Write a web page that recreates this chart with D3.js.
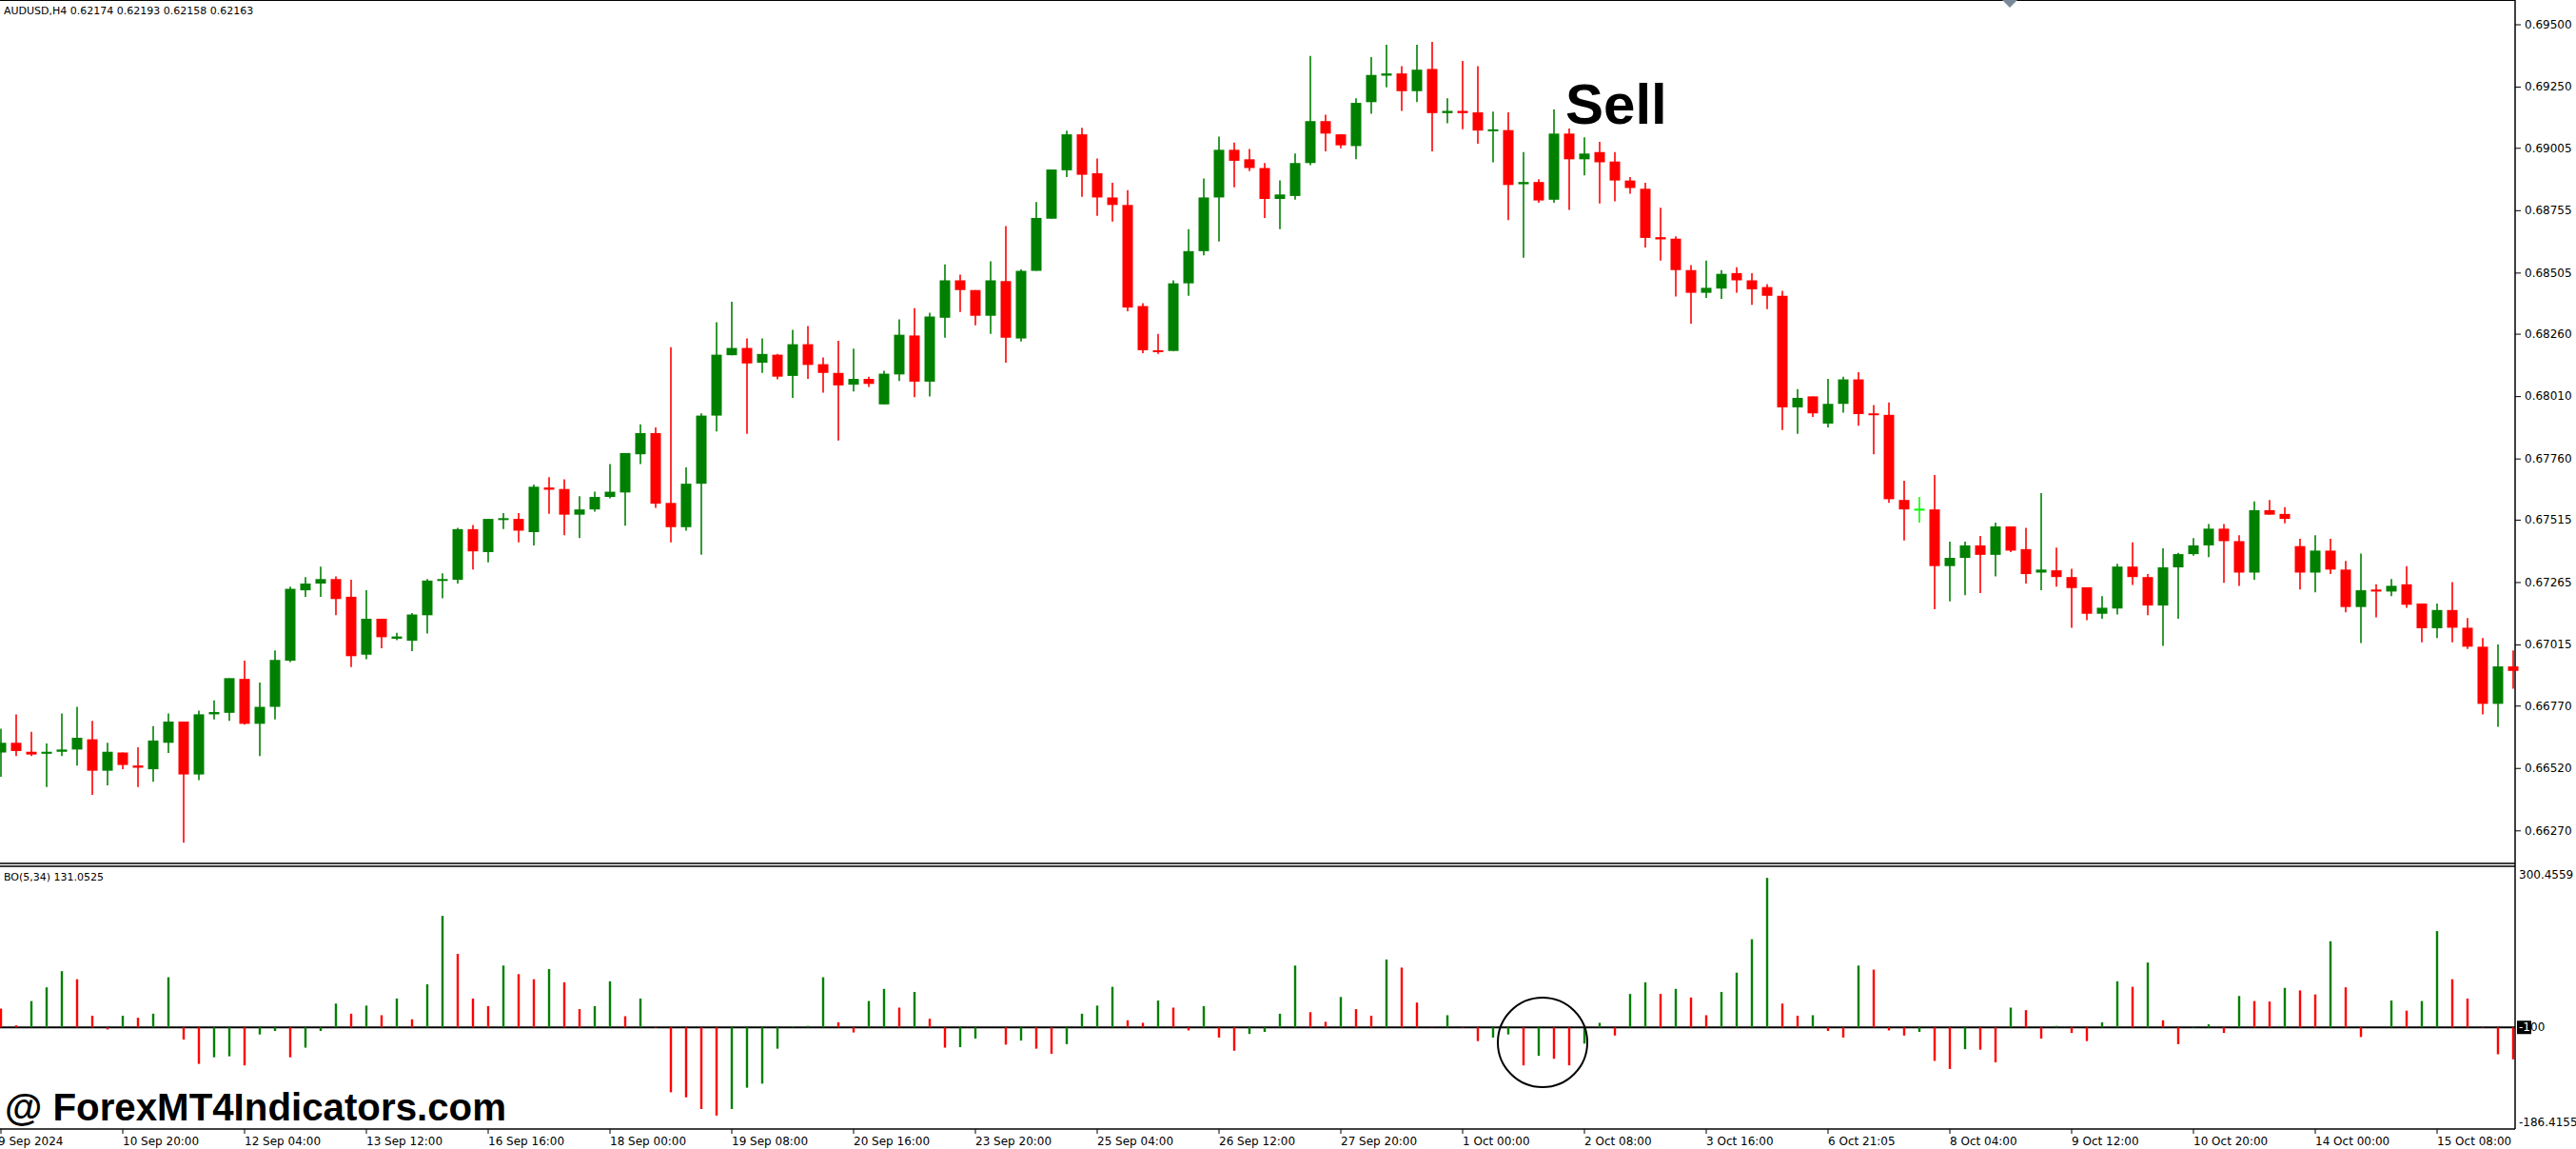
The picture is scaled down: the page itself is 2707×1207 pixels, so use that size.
<!DOCTYPE html>
<html>
<head>
<meta charset="utf-8">
<script src="https://cdn.jsdelivr.net/npm/d3@7"></script>
<style>
  html, body { margin: 0; padding: 0; background: #fff; }
  svg { display: block; }
</style>
</head>
<body>
<svg id="chart" width="2707" height="1207"></svg>
<script>
// AUDUSD H4 candles
var opens = [0.66582,0.66621,0.66585,0.66577,0.66585,0.66594,0.66635,0.66509,0.66582,0.66530,
0.66515,0.66621,0.66706,0.66494,0.66735,0.66741,0.66877,0.66697,0.66765,0.66950,
0.67232,0.67259,0.67277,0.67206,0.66974,0.67118,0.67038,0.67030,0.67132,0.67271,
0.67274,0.67477,0.67385,0.67515,0.67518,0.67465,0.67644,0.67638,0.67535,0.67556,
0.67606,0.67624,0.67777,0.67862,0.67582,0.67485,0.67659,0.67932,0.68174,0.68203,
0.68144,0.68176,0.68091,0.68218,0.68138,0.68103,0.68056,0.68079,0.67977,0.68097,
0.68253,0.68068,0.68324,0.68474,0.68435,0.68332,0.68471,0.68241,0.68512,0.68721,
0.68915,0.69059,0.68903,0.68806,0.68776,0.68371,0.68194,0.68191,0.68462,0.68591,
0.68806,0.68997,0.68959,0.68924,0.68800,0.68812,0.68944,0.69112,0.69059,0.69012,
0.69188,0.69294,0.69303,0.69232,0.69321,0.69144,0.69153,0.69147,0.69074,0.69076,
0.68859,0.68868,0.68797,0.69062,0.68959,0.68988,0.68950,0.68874,0.68841,0.68647,
0.68641,0.68515,0.68424,0.68441,0.68503,0.68474,0.68447,0.68412,0.67965,0.68009,
0.67900,0.67979,0.68077,0.67941,0.67935,0.67594,0.67559,0.67556,0.67329,0.67362,
0.67412,0.67374,0.67488,0.67397,0.67303,0.67312,0.67285,0.67244,0.67138,0.67159,
0.67327,0.67285,0.67171,0.67324,0.67377,0.67412,0.67479,0.67429,0.67303,0.67553,
0.67538,0.67409,0.67303,0.67391,0.67315,0.67165,0.67235,0.67227,0.67256,0.67179,
0.67080,0.67153,0.67082,0.67006,0.66777,0.66927];
var highs = [0.66677,0.66735,0.66665,0.66618,0.66738,0.66765,0.66709,0.66621,0.66582,0.66603,
0.66688,0.66738,0.66706,0.66750,0.66791,0.66880,0.66950,0.66862,0.66991,0.67247,
0.67285,0.67327,0.67288,0.67274,0.67232,0.67118,0.67062,0.67141,0.67277,0.67300,
0.67482,0.67494,0.67518,0.67541,0.67541,0.67656,0.67685,0.67677,0.67609,0.67627,
0.67738,0.67782,0.67897,0.67885,0.68206,0.67724,0.67941,0.68306,0.68388,0.68241,
0.68241,0.68179,0.68276,0.68291,0.68165,0.68232,0.68200,0.68088,0.68112,0.68318,
0.68362,0.68344,0.68538,0.68497,0.68435,0.68550,0.68691,0.68518,0.68788,0.68918,
0.69074,0.69085,0.68962,0.68865,0.68835,0.68382,0.68259,0.68474,0.68679,0.68882,
0.69050,0.69026,0.69000,0.68944,0.68874,0.68982,0.69373,0.69138,0.69059,0.69203,
0.69368,0.69418,0.69332,0.69418,0.69429,0.69203,0.69353,0.69332,0.69150,0.69147,
0.68988,0.68879,0.69159,0.69082,0.69047,0.69029,0.68988,0.68888,0.68865,0.68765,
0.68650,0.68535,0.68553,0.68515,0.68526,0.68503,0.68459,0.68432,0.68038,0.68009,
0.68079,0.68088,0.68106,0.67974,0.67985,0.67671,0.67606,0.67694,0.67427,0.67427,
0.67450,0.67503,0.67488,0.67482,0.67621,0.67403,0.67318,0.67244,0.67209,0.67338,
0.67424,0.67297,0.67400,0.67382,0.67441,0.67497,0.67497,0.67453,0.67588,0.67594,
0.67565,0.67438,0.67453,0.67438,0.67350,0.67379,0.67256,0.67277,0.67329,0.67179,
0.67179,0.67265,0.67121,0.67041,0.67015,0.66991];
var lows = [0.66485,0.66568,0.66568,0.66444,0.66568,0.66530,0.66412,0.66450,0.66515,0.66444,
0.66465,0.66580,0.66221,0.66471,0.66715,0.66709,0.66694,0.66568,0.66715,0.66944,
0.67206,0.67206,0.67132,0.66924,0.66956,0.67000,0.67032,0.66988,0.67059,0.67200,
0.67259,0.67315,0.67344,0.67477,0.67424,0.67412,0.67538,0.67453,0.67441,0.67547,
0.67600,0.67491,0.67738,0.67562,0.67424,0.67471,0.67374,0.67868,0.68174,0.67859,
0.68103,0.68077,0.68003,0.68079,0.68024,0.67832,0.68029,0.68047,0.67977,0.68071,
0.68006,0.68009,0.68244,0.68347,0.68294,0.68259,0.68144,0.68229,0.68512,0.68721,
0.68888,0.68809,0.68732,0.68709,0.68350,0.68182,0.68179,0.68191,0.68412,0.68574,
0.68629,0.68847,0.68912,0.68724,0.68679,0.68797,0.68935,0.68991,0.69003,0.68959,
0.69141,0.69247,0.69153,0.69188,0.68991,0.69103,0.69079,0.69021,0.68947,0.68715,
0.68565,0.68785,0.68785,0.68756,0.68894,0.68782,0.68791,0.68821,0.68606,0.68553,
0.68409,0.68300,0.68403,0.68400,0.68424,0.68376,0.68359,0.67874,0.67859,0.67927,
0.67885,0.67944,0.67891,0.67777,0.67582,0.67432,0.67503,0.67156,0.67188,0.67212,
0.67221,0.67288,0.67385,0.67259,0.67232,0.67247,0.67082,0.67112,0.67118,0.67135,
0.67253,0.67132,0.67009,0.67118,0.67371,0.67365,0.67262,0.67250,0.67274,0.67535,
0.67500,0.67235,0.67224,0.67297,0.67144,0.67021,0.67124,0.67209,0.67162,0.67024,
0.67041,0.67024,0.66997,0.66735,0.66685,0.66838];
var closes = [0.66621,0.66588,0.66574,0.66585,0.66594,0.66641,0.66509,0.66585,0.66532,0.66521,
0.66630,0.66706,0.66494,0.66735,0.66744,0.66880,0.66697,0.66765,0.66953,0.67238,
0.67259,0.67277,0.67197,0.66968,0.67118,0.67044,0.67047,0.67135,0.67271,0.67277,
0.67477,0.67388,0.67518,0.67521,0.67471,0.67647,0.67635,0.67535,0.67556,0.67606,
0.67627,0.67782,0.67862,0.67579,0.67485,0.67659,0.67932,0.68176,0.68203,0.68141,
0.68179,0.68088,0.68218,0.68135,0.68103,0.68053,0.68079,0.68059,0.68100,0.68256,
0.68068,0.68329,0.68474,0.68435,0.68332,0.68474,0.68244,0.68512,0.68724,0.68918,
0.69059,0.68897,0.68806,0.68776,0.68365,0.68194,0.68188,0.68462,0.68591,0.68806,
0.68997,0.68953,0.68924,0.68800,0.68818,0.68944,0.69112,0.69062,0.69015,0.69185,
0.69297,0.69303,0.69232,0.69318,0.69144,0.69153,0.69144,0.69074,0.69079,0.68856,
0.68868,0.68794,0.69062,0.68959,0.68982,0.68947,0.68874,0.68844,0.68644,0.68638,
0.68515,0.68424,0.68444,0.68500,0.68474,0.68438,0.68412,0.67965,0.68003,0.67941,
0.67979,0.68077,0.67938,0.67935,0.67597,0.67556,0.67559,0.67329,0.67362,0.67412,
0.67374,0.67488,0.67391,0.67297,0.67315,0.67285,0.67241,0.67138,0.67162,0.67327,
0.67285,0.67171,0.67324,0.67377,0.67412,0.67479,0.67429,0.67303,0.67553,0.67535,
0.67518,0.67303,0.67391,0.67315,0.67165,0.67232,0.67227,0.67250,0.67174,0.67080,
0.67153,0.67082,0.67006,0.66777,0.66927,0.66909];

// BO(5,34) histogram values
var bo = [37,4,52,79,111,95,23,-4,23,19,27,99,-24,-72,-59,-57,-75,-14,-7,-59,
-40,-7,47,27,43,24,57,16,85,220,145,57,42,122,105,95,115,89,36,42,
91,22,57,-1,-128,-138,-161,-174,-161,-119,-111,-42,2,3,99,10,-10,52,76,39,
70,17,-40,-39,-22,0,-34,-26,-42,-52,-33,27,43,80,14,9,53,39,-6,42,
-20,-46,-13,-9,27,122,30,11,60,36,23,134,118,49,1,24,-1,-27,-20,-14,
-75,-56,-62,-75,-32,9,-16,66,89,66,76,59,24,70,108,174,295,47,23,24,
-7,-20,122,114,-6,-16,-9,-66,-82,-43,-44,-69,39,34,-22,3,-11,-27,10,91,
80,128,14,-33,-1,6,-11,62,52,51,78,73,65,170,79,-19,0,53,33,52,
190,95,57,-1,-53,-63];

var priceTicks = [0.69500,0.69250,0.69005,0.68755,0.68505,0.68260,0.68010,0.67760,0.67515,0.67265,0.67015,0.66770,0.66520,0.66270];
var dateLabels = ["9 Sep 2024","10 Sep 20:00","12 Sep 04:00","13 Sep 12:00","16 Sep 16:00","18 Sep 00:00","19 Sep 08:00",
"20 Sep 16:00","23 Sep 20:00","25 Sep 04:00","26 Sep 12:00","27 Sep 20:00","1 Oct 00:00","2 Oct 08:00",
"3 Oct 16:00","6 Oct 21:05","8 Oct 04:00","9 Oct 12:00","10 Oct 20:00","14 Oct 00:00","15 Oct 08:00"];
var labelEvery = 8;

var svg = d3.select("#chart");
var right = 2643;
var font = "DejaVu Sans, Verdana, sans-serif";

var x = d3.scaleLinear().domain([0, opens.length - 1]).range([1, 2641]);
var y = d3.scaleLinear().domain([0.6627, 0.695]).range([872.3, 25.5]);
var yb = d3.scaleLinear().domain([-186.4155, 300.4559]).range([1178.5, 919.3]);

// frames
svg.append("line").attr("x1", 0).attr("x2", right).attr("y1", 0.5).attr("y2", 0.5).attr("stroke", "#000");
svg.append("line").attr("x1", 0).attr("x2", right).attr("y1", 907).attr("y2", 907).attr("stroke", "#000").attr("stroke-width", 1.5);
svg.append("line").attr("x1", 0).attr("x2", right).attr("y1", 910).attr("y2", 910).attr("stroke", "#000").attr("stroke-width", 1.5);
svg.append("line").attr("x1", 0).attr("x2", right).attr("y1", 1186).attr("y2", 1186).attr("stroke", "#000").attr("stroke-width", 1.5);
svg.append("line").attr("x1", right).attr("x2", right).attr("y1", 0).attr("y2", 1186).attr("stroke", "#000").attr("stroke-width", 1.5);

// price axis
var pa = svg.append("g").attr("transform", "translate(" + right + ",0)")
  .call(d3.axisRight(y).tickValues(priceTicks).tickSize(6).tickPadding(4).tickFormat(d3.format(".5f")));
pa.select(".domain").remove();
pa.selectAll("text").attr("font-family", font).attr("font-size", 12).attr("fill", "#000");

// candles
var idx = d3.range(opens.length);
function col(i) { return closes[i] > opens[i] ? "#008000" : (closes[i] < opens[i] ? "#ff0000" : "#00ff00"); }
var cg = svg.append("g");
cg.selectAll("line.wick").data(idx).join("line")
  .attr("x1", i => x(i)).attr("x2", i => x(i))
  .attr("y1", i => y(highs[i])).attr("y2", i => y(lows[i]))
  .attr("stroke", col).attr("stroke-width", 1.6);
cg.selectAll("rect.body").data(idx).join("rect")
  .attr("x", i => x(i) - 5.5).attr("width", 11)
  .attr("y", i => y(Math.max(opens[i], closes[i])))
  .attr("height", i => Math.max(2, Math.abs(y(opens[i]) - y(closes[i]))))
  .attr("fill", col);

// BO histogram
svg.append("line").attr("x1", 0).attr("x2", right).attr("y1", yb(0)).attr("y2", yb(0)).attr("stroke", "#000").attr("stroke-width", 2);
svg.append("g").selectAll("rect").data(idx).join("rect")
  .attr("x", i => x(i) - 1.2).attr("width", 2.4)
  .attr("y", i => yb(Math.max(0, bo[i])))
  .attr("height", i => Math.abs(yb(bo[i]) - yb(0)))
  .attr("fill", i => bo[i] > (i ? bo[i - 1] : 40) ? "#008000" : "#ff0000");

var ba = svg.append("g").attr("font-family", font).attr("font-size", 12);
ba.append("text").attr("x", right + 4).attr("y", yb(300.4559) + 4).text("300.4559");
ba.append("text").attr("x", right + 4).attr("y", yb(-186.4155) + 4).text("-186.4155");
ba.append("rect").attr("x", right + 2).attr("y", yb(0) - 7).attr("width", 15).attr("height", 14).attr("fill", "#000");
ba.append("text").attr("x", right + 4).attr("y", yb(0) + 4).attr("fill", "#fff").text("-1");
ba.append("text").attr("x", right + 16).attr("y", yb(0) + 4).text("00");

// date axis
var dg = svg.append("g").attr("font-family", font).attr("font-size", 12);
dateLabels.forEach(function (t, k) {
  var xx = x(k * labelEvery);
  dg.append("line").attr("x1", xx).attr("x2", xx).attr("y1", 1186).attr("y2", 1191).attr("stroke", "#000");
  dg.append("text").attr("x", xx + (k ? 0 : -3)).attr("y", 1203).text(t);
});

// labels
svg.append("text").attr("x", 4).attr("y", 15).attr("font-family", font).attr("font-size", 11)
  .text("AUDUSD,H4  0.62174 0.62193 0.62158 0.62163");
svg.append("text").attr("x", 4).attr("y", 925).attr("font-family", font).attr("font-size", 11)
  .text("BO(5,34) 131.0525");
svg.append("path").attr("d", "M2104,0 L2120,0 L2112,8 Z").attr("fill", "#7a8a99");

svg.append("text").attr("x", 1645).attr("y", 130).attr("font-family", "Liberation Sans, Arial, sans-serif")
  .attr("font-weight", "bold").attr("font-size", 60).text("Sell");
svg.append("ellipse").attr("cx", 1621).attr("cy", 1095).attr("rx", 47).attr("ry", 47)
  .attr("fill", "none").attr("stroke", "#000").attr("stroke-width", 2);
svg.append("text").attr("x", 5).attr("y", 1177).attr("font-family", "Liberation Sans, Arial, sans-serif")
  .attr("font-weight", "bold").attr("font-size", 40).attr("textLength", 527).attr("lengthAdjust", "spacingAndGlyphs")
  .text("@ ForexMT4Indicators.com");
</script>
</body>
</html>
